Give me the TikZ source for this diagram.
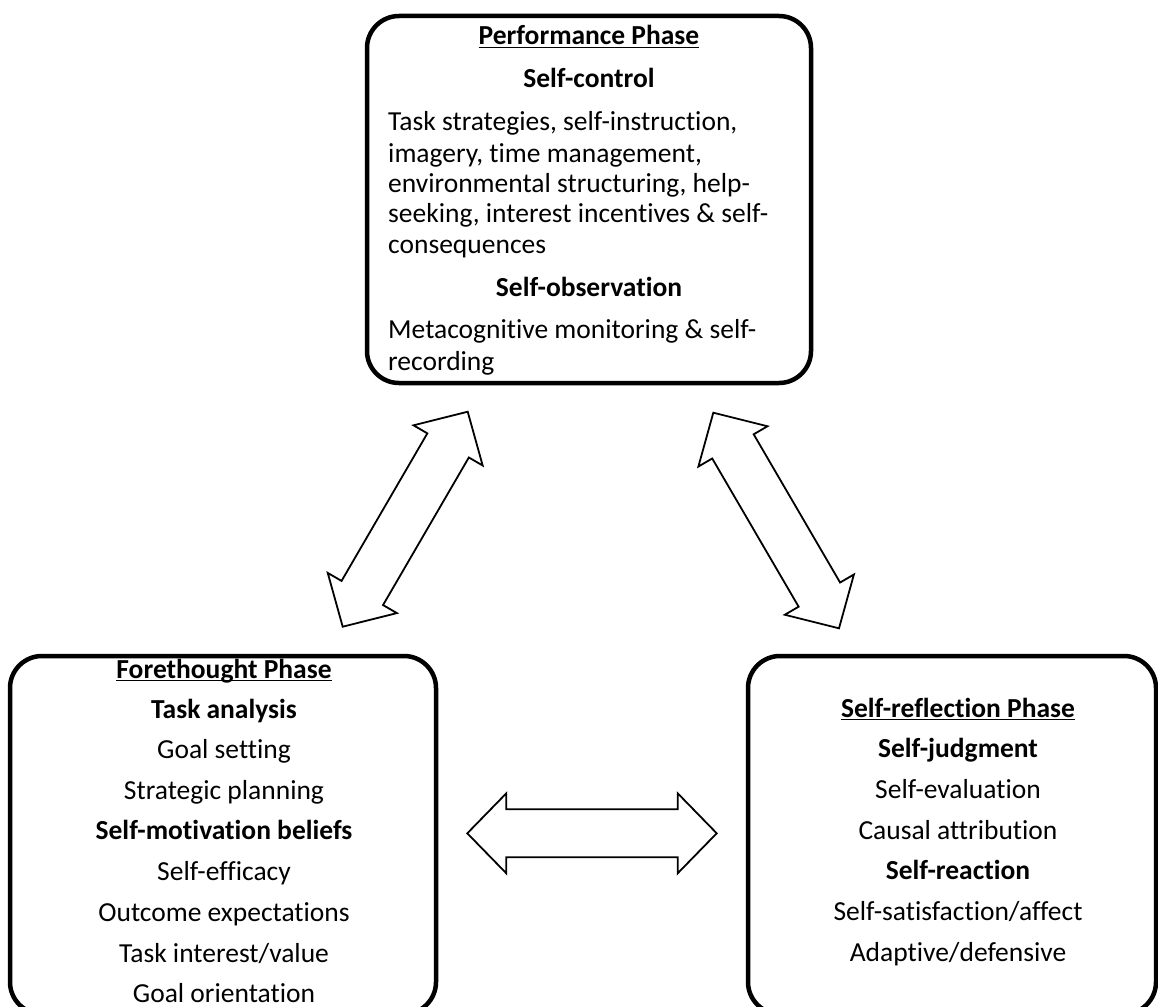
\documentclass[tikz,border=0pt]{standalone}
\usepackage{fontspec}
\setmainfont[Ligatures=NoCommon]{Carlito}
\usetikzlibrary{calc}
\newcommand\ulx[1]{\setbox0\hbox{#1}\rlap{\rule[-3.2pt]{\wd0}{1.5pt}}\box0}
\tikzset{
  phasebox/.style={draw, line width=4.5pt, rounded corners=32pt, inner sep=0pt},
  barrow/.style={draw, line width=1.8pt, line join=miter, fill=white},
  txt/.style={font=\fontsize{27.5}{30}\selectfont, inner sep=0pt, anchor=base},
  btxt/.style={font=\bfseries\fontsize{27.5}{30}\selectfont, inner sep=0pt, anchor=base},
  ltxt/.style={txt, anchor=base west},
}
\newcommand\blockarrow[2]{%
  \draw[barrow] (#1)
    -- ($(#1)!39pt!(#2)!40pt!90:(#2)$)
    -- ($(#1)!39pt!(#2)!24pt!90:(#2)$)
    -- ($(#2)!39pt!(#1)!24pt!-90:(#1)$)
    -- ($(#2)!39pt!(#1)!40pt!-90:(#1)$)
    -- (#2)
    -- ($(#2)!39pt!(#1)!40pt!90:(#1)$)
    -- ($(#2)!39pt!(#1)!24pt!90:(#1)$)
    -- ($(#1)!39pt!(#2)!24pt!-90:(#2)$)
    -- ($(#1)!39pt!(#2)!40pt!-90:(#2)$)
    -- cycle;}
\begin{document}
\begin{tikzpicture}[x=1pt,y=-1pt]
\useasboundingbox (0,0) rectangle (1158,1006);
% boxes
\node[phasebox, minimum width=444pt, minimum height=367pt] (perf) at (589,199.5) {};
\node[phasebox, minimum width=426pt, minimum height=358pt] (fore) at (223,835) {};
\node[phasebox, minimum width=408pt, minimum height=358pt] (refl) at (952,835) {};
% performance phase text
\node[btxt] (p0) at (589,45) {\ulx{Performance Phase}};
\node[btxt] (p1) at (589,88) {Self-control};
\node[ltxt] (p2) at (388,130) {Task strategies, self-instruction,};
\node[ltxt] (p3) at (388,162) {imagery, time management,};
\node[ltxt] (p4) at (388,192) {environmental structuring, help-};
\node[ltxt] (p5) at (388,222) {seeking, interest incentives \& self-};
\node[ltxt] (p6) at (388,253) {consequences};
\node[btxt] (p7) at (589,296) {Self-observation};
\node[ltxt] (p8) at (388,338) {Metacognitive monitoring \& self-};
\node[ltxt] (p9) at (388,370) {recording};
% forethought phase text
\node[btxt] (f0) at (224,678) {\ulx{Forethought Phase}};
\node[btxt] (f1) at (224,718) {Task analysis};
\node[txt] (f2) at (224,758) {Goal setting};
\node[txt] (f3) at (224,799) {Strategic planning};
\node[btxt] (f4) at (224,839) {Self-motivation beliefs};
\node[txt] (f5) at (224,880) {Self-efficacy};
\node[txt] (f6) at (224,921) {Outcome expectations};
\node[txt] (f7) at (224,962) {Task interest/value};
\node[txt] (f8) at (224,1002) {Goal orientation};
% self-reflection phase text
\node[btxt] (r0) at (958,717) {\ulx{Self-reflection Phase}};
\node[btxt] (r1) at (958,757) {Self-judgment};
\node[txt] (r2) at (958,798) {Self-evaluation};
\node[txt] (r3) at (958,839) {Causal attribution};
\node[btxt] (r4) at (958,879) {Self-reaction};
\node[txt] (r5) at (958,920) {Self-satisfaction/affect};
\node[txt] (r6) at (958,961) {Adaptive/defensive};
% arrows
\coordinate (la) at (467.7,411.7);
\coordinate (lb) at (342.7,626.7);
\coordinate (ra) at (713.3,412.7);
\coordinate (rb) at (839,628.3);
\coordinate (ha) at (467.3,833.3);
\coordinate (hb) at (716.7,833.3);
\blockarrow{la}{lb}
\blockarrow{ra}{rb}
\blockarrow{ha}{hb}
\end{tikzpicture}
\end{document}
